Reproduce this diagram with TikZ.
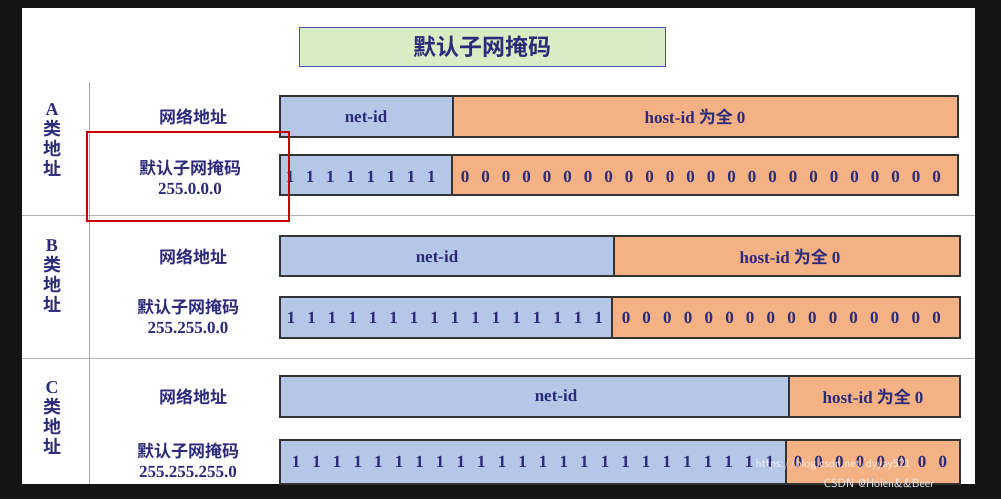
\documentclass[tikz,border=0pt]{standalone}
\usepackage{fontspec}
\setmainfont{Liberation Serif}
\newfontfamily\cjk{Noto Sans CJK SC}[BoldFont={Noto Sans CJK SC Bold}]
\begin{document}
\begin{tikzpicture}[x=1pt,y=-1pt,
  netc/.style={draw=black!80,line width=1.2pt,fill=netblue},
  hostc/.style={draw=black!80,line width=1.2pt,fill=hostor},
  txt/.style={text=navy,font=\bfseries\fontsize{17}{19}\selectfont},
  ctxt/.style={text=navy,font=\cjk\bfseries\fontsize{17}{20}\selectfont},
  dig/.style={text=navy,font=\bfseries\fontsize{17}{18}\selectfont}]
\definecolor{netblue}{HTML}{B4C7E7}
\definecolor{hostor}{HTML}{F4B183}
\definecolor{navy}{HTML}{2B2B7A}
\definecolor{ttl}{HTML}{D8EDC4}
\fill[black!92] (0,0) rectangle (1001,499);
\fill[white] (22,8) rectangle (975,484);
\useasboundingbox (0,0) rectangle (1001,499);
% title
\node[draw=blue!40!gray,line width=1pt,fill=ttl,minimum width=366pt,minimum height=39pt,text=navy,font=\cjk\bfseries\fontsize{23}{25}\selectfont] (title) at (482,47) {默认子网掩码};
% separators
\draw[gray!60,line width=1pt] (22,215) -- (975,215) (22,358) -- (975,358);
\draw[gray!70,line width=1pt] (89,82) -- (89,484);
% class labels
\node[text=navy,align=center,font=\cjk\bfseries\fontsize{18}{20}\selectfont] (la) at (52,140) {\textrm{A}\\类\\地\\址};
\node[text=navy,align=center,font=\cjk\bfseries\fontsize{18}{20}\selectfont] (lb) at (52,276) {\textrm{B}\\类\\地\\址};
\node[text=navy,align=center,font=\cjk\bfseries\fontsize{18}{20}\selectfont] (lc) at (52,418) {\textrm{C}\\类\\地\\址};
% row labels
\foreach \y/\n in {117/a,257/b,397/c}{\node[ctxt] (na\n) at (193,\y) {网络地址};}
\node[ctxt,align=center] (ma) at (190,177) {默认子网掩码\\\rmfamily\bfseries 255.0.0.0};
\node[ctxt,align=center] (mb) at (188,316) {默认子网掩码\\\rmfamily\bfseries 255.255.0.0};
\node[ctxt,align=center] (mc) at (188,460) {默认子网掩码\\\rmfamily\bfseries 255.255.255.0};
% A
\draw[netc] (280,96) rectangle (453,137); \draw[hostc] (453,96) rectangle (958,137);
\node[txt] (an) at (366,117) {net-id};
\node[txt] (ah) at (695,117) {host-id \cjk\bfseries 为全 \rmfamily\bfseries 0};
\draw[netc] (280,155) rectangle (452,195); \draw[hostc] (452,155) rectangle (958,195);
\foreach \i in {0,...,7}{\node[dig] at (290+\i*20.2,177) {1};}
\foreach \i in {0,...,23}{\node[dig] at (465+\i*20.5,177) {0};}
% B
\draw[netc] (280,236) rectangle (614,276); \draw[hostc] (614,236) rectangle (960,276);
\node[txt] (bn) at (437,257) {net-id};
\node[txt] (bh) at (790,257) {host-id \cjk\bfseries 为全 \rmfamily\bfseries 0};
\draw[netc] (280,297) rectangle (612,338); \draw[hostc] (612,297) rectangle (960,338);
\foreach \i in {0,...,15}{\node[dig] at (291+\i*20.5,318) {1};}
\foreach \i in {0,...,15}{\node[dig] at (626+\i*20.7,318) {0};}
% C
\draw[netc] (280,376) rectangle (789,417); \draw[hostc] (789,376) rectangle (960,417);
\node[txt] (cn) at (556,396) {net-id};
\node[txt] (ch) at (873,397) {host-id \cjk\bfseries 为全 \rmfamily\bfseries 0};
\draw[netc] (280,440) rectangle (786,484); \draw[hostc] (786,440) rectangle (960,484);
\foreach \i in {0,...,23}{\node[dig] at (296+\i*20.6,462) {1};}
\foreach \i in {0,...,7}{\node[dig] at (798+\i*20.7,462) {0};}
% red box
\draw[red!80!black,line width=1.2pt] (87,132) rectangle (289,221);
% watermark
\node[text=white,opacity=0.8,font=\sffamily\fontsize{12}{14}\selectfont,anchor=west] (w1) at (752,464) {https://blog.csdn.net/dyyay521};
\node[text=white!85!gray,font=\sffamily\fontsize{12}{14}\selectfont,anchor=west] (w2) at (820,483) {CSDN @Holen\&\&Beer};
\end{tikzpicture}
\end{document}
